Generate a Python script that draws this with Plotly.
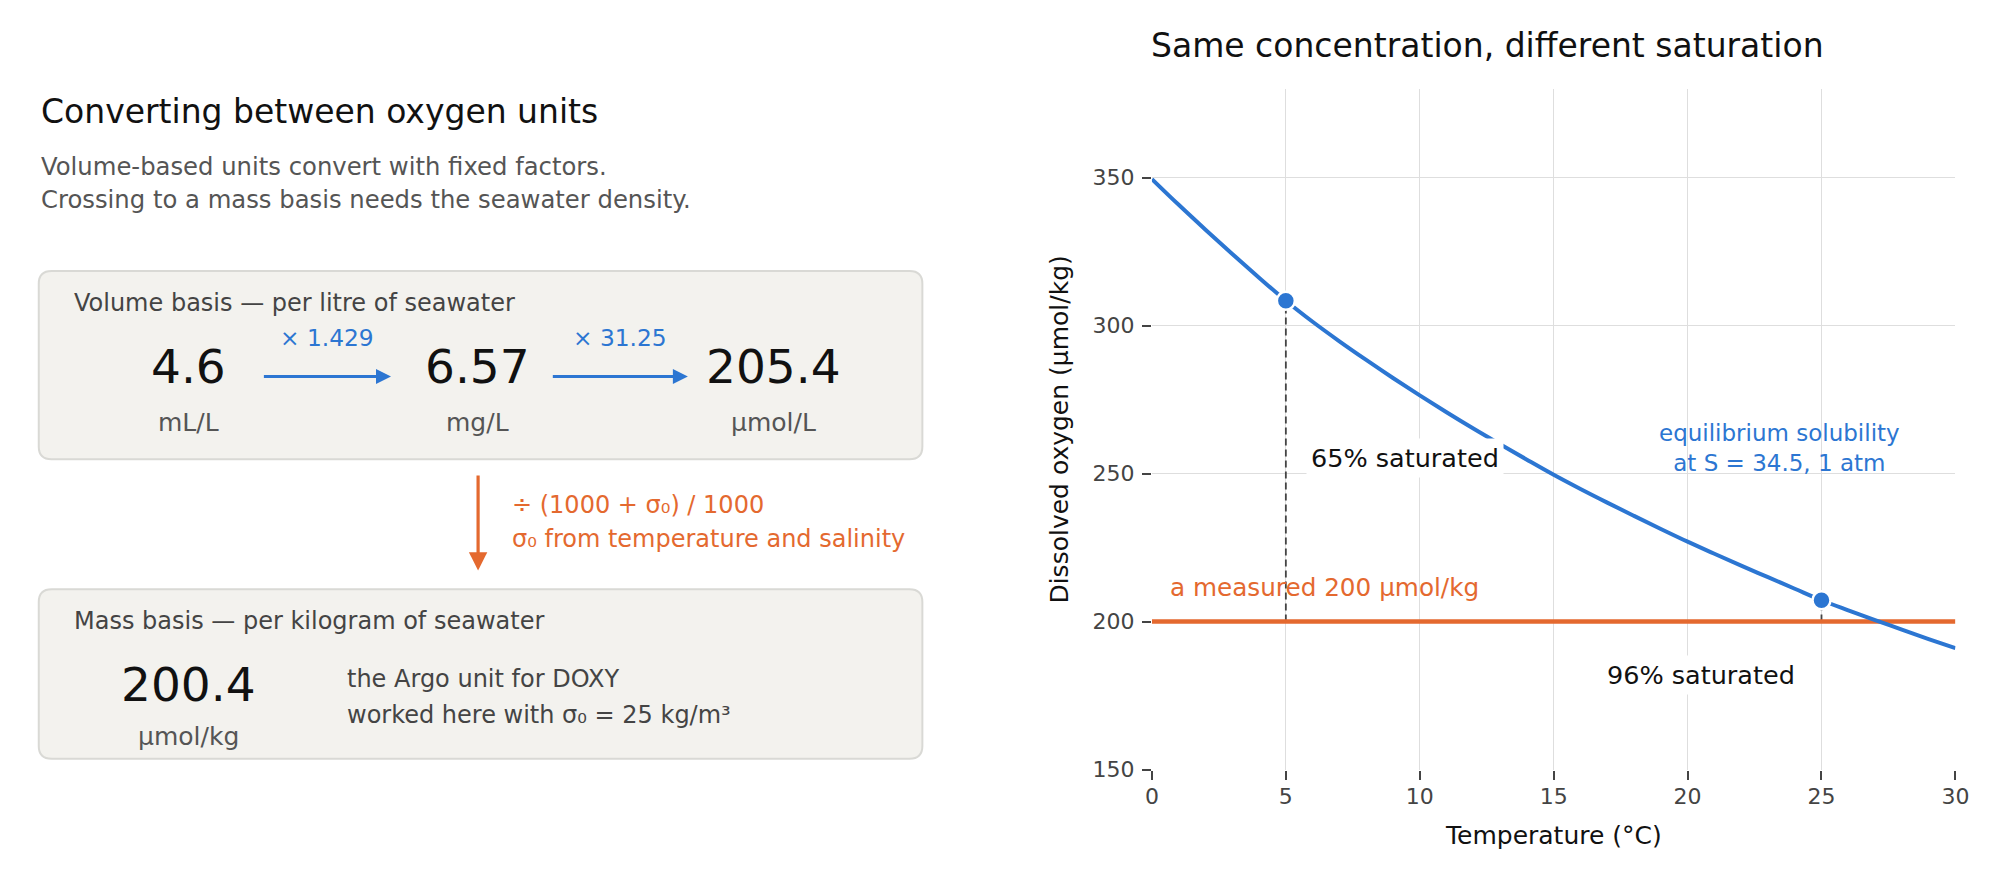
import plotly.graph_objects as go

# ---- data ----
temperature = [0, 1, 2, 3, 4, 5, 6, 7, 8, 9, 10, 11, 12, 13, 14, 15,
               16, 17, 18, 19, 20, 21, 22, 23, 24, 25, 26, 27, 28, 29, 30]
solubility = [349.5, 340.8, 332.4, 324.2, 316.2, 308.4, 301.3, 294.7, 288.4, 282.3,
              276.4, 270.7, 265.2, 259.9, 254.7, 249.6, 244.8, 240.2, 235.7, 231.3,
              227.0, 222.9, 218.9, 215.0, 211.1, 207.2, 203.8, 200.5, 197.3, 194.1, 191.0]
measured = 200
marked_temps = [5, 25]
marked_labels = ["65% saturated", "96% saturated"]

volume_values = [4.6, 6.57, 205.4]
volume_units = ["mL/L", "mg/L", "μmol/L"]
factors = [1.429, 31.25]
mass_value = 200.4
mass_unit = "μmol/kg"

BLUE = "#2c76d2"
ORANGE = "#e4692f"
FONT = "DejaVu Sans"
W, H = 2000, 880

fig = go.Figure()

# ---- right chart: solubility curve ----
marked_sol = [solubility[temperature.index(t)] for t in marked_temps]

for t, s in zip(marked_temps, marked_sol):
    fig.add_trace(go.Scatter(x=[t, t], y=[measured, s], mode="lines",
                             line=dict(color="#444444", width=1.8, dash="7px,4px"),
                             hoverinfo="skip", showlegend=False))

fig.add_trace(go.Scatter(x=[temperature[0], temperature[-1]], y=[measured, measured],
                         mode="lines", line=dict(color=ORANGE, width=4.5),
                         showlegend=False))
fig.add_trace(go.Scatter(x=temperature, y=solubility, mode="lines",
                         line=dict(color=BLUE, width=4, shape="spline"),
                         showlegend=False))
fig.add_trace(go.Scatter(x=marked_temps, y=marked_sol, mode="markers",
                         marker=dict(color=BLUE, size=18, line=dict(color="white", width=2.5)),
                         showlegend=False))

axis_common = dict(showgrid=True, gridcolor="#dedede", gridwidth=1.3, zeroline=False,
                   showline=False, ticks="outside", ticklen=9, tickwidth=1.5,
                   tickcolor="#444444", tickfont=dict(family=FONT, size=22, color="#444444"),
                   fixedrange=True)

fig.update_layout(
    width=W, height=H,
    margin=dict(l=0, r=0, t=0, b=0),
    paper_bgcolor="white", plot_bgcolor="rgba(0,0,0,0)",
    font=dict(family=FONT, color="#111111"),
    hovermode=False,
    xaxis=dict(domain=[1149 / W, 1961 / W], range=[0, 30], dtick=5, anchor="y",
               ticklabelstandoff=-2, **axis_common),
    yaxis=dict(domain=[(H - 773) / H, (H - 82) / H], range=[150, 380],
               tickvals=[150, 200, 250, 300, 350], anchor="x", ticklabelstandoff=3,
               **axis_common),
    # pixel-space helper axes for the diagram and free text
    xaxis2=dict(domain=[0, 1], range=[0, W], visible=False, anchor="y2", fixedrange=True),
    yaxis2=dict(domain=[0, 1], range=[H, 0], visible=False, anchor="x2", fixedrange=True),
)


def txt(x, y, text, size, color="#111111", xanchor="left", **kw):
    fig.add_annotation(x=x, y=y, xref="x2", yref="y2", text=text, showarrow=False,
                       xanchor=xanchor, yanchor="middle",
                       font=dict(family=FONT, size=size, color=color), **kw)


def box(x0, y0, x1, y1, r=13):
    path = (f"M{x0 + r},{y0} L{x1 - r},{y0} Q{x1},{y0} {x1},{y0 + r} "
            f"L{x1},{y1 - r} Q{x1},{y1} {x1 - r},{y1} L{x0 + r},{y1} "
            f"Q{x0},{y1} {x0},{y1 - r} L{x0},{y0 + r} Q{x0},{y0} {x0 + r},{y0} Z")
    fig.add_shape(type="path", path=path, xref="x2", yref="y2",
                  fillcolor="#f3f2ee", line=dict(color="#d9d9d5", width=2), layer="below")


def arrow(x0, y0, x1, y1, color, width, size):
    fig.add_annotation(x=x1, y=y1, ax=x0, ay=y0, xref="x2", yref="y2",
                       axref="x2", ayref="y2", text="", showarrow=True,
                       arrowhead=2, arrowsize=size, arrowwidth=width,
                       arrowcolor=color, standoff=0, startstandoff=0)


# ---- left diagram ----
txt(24, 105, "Converting between oxygen units", 33, "#111111")
txt(24, 160.5, "Volume-based units convert with fixed factors.", 24.3, "#555555")
txt(24, 194.5, "Crossing to a mass basis needs the seawater density.", 24.3, "#555555")

box(24, 267, 917, 458)
txt(58, 299, "Volume basis — per litre of seawater", 24, "#444444")
value_x = [175, 467, 767]
for vx, v, u in zip(value_x, volume_values, volume_units):
    txt(vx, 364, str(v), 47, "#111111", xanchor="center")
    txt(vx, 421, u, 25, "#555555", xanchor="center")
for i, f in enumerate(factors):
    a0, a1 = value_x[i] + 75, value_x[i + 1] - 87
    arrow(a0, 374, a1, 374, BLUE, 3, 1)
    txt((a0 + a1) / 2, 334, f"× {f}", 23.3, BLUE, xanchor="center")

arrow(468, 473, 468, 571, ORANGE, 3.2, 1.15)
txt(500, 504, "÷ (1000 + σ₀) / 1000", 24, ORANGE)
txt(500, 539, "σ₀ from temperature and salinity", 24, ORANGE)

box(24, 590, 917, 762)
txt(58, 622, "Mass basis — per kilogram of seawater", 24, "#444444")
txt(175, 687, str(mass_value), 47, "#111111", xanchor="center")
txt(175, 739, mass_unit, 25, "#555555", xanchor="center")
txt(334, 681, "the Argo unit for DOXY", 24, "#444444")
txt(334, 718, "worked here with σ₀ = 25 kg/m³", 24, "#444444")

# ---- right chart text ----
txt(1146, 38, "Same concentration, different saturation", 33, "#111111")
txt(1555, 840, "Temperature (°C)", 25, "#111111", xanchor="center")
txt(1056, 428, "Dissolved oxygen (μmol/kg)", 25, "#111111", xanchor="center", textangle=-90)

fig.add_annotation(x=0.6, y=211.5, xref="x", yref="y", text=f"a measured {measured} μmol/kg",
                   showarrow=False, xanchor="left", yanchor="middle",
                   font=dict(family=FONT, size=24.7, color=ORANGE))
fig.add_annotation(x=23.45, y=258.8, xref="x", yref="y",
                   text="equilibrium solubility<br>at S = 34.5, 1 atm",
                   showarrow=False, xanchor="center", yanchor="middle", align="center",
                   font=dict(family=FONT, size=23, color=BLUE))
label_pos = [(9.45, 255.1), (20.5, 182.1)]
for (lx, ly), lab in zip(label_pos, marked_labels):
    fig.add_annotation(x=lx, y=ly, xref="x", yref="y", text=lab, showarrow=False,
                       xanchor="center", yanchor="middle", bgcolor="white", borderpad=4,
                       font=dict(family=FONT, size=25.5, color="#111111"))

fig.write_html("out.html")
